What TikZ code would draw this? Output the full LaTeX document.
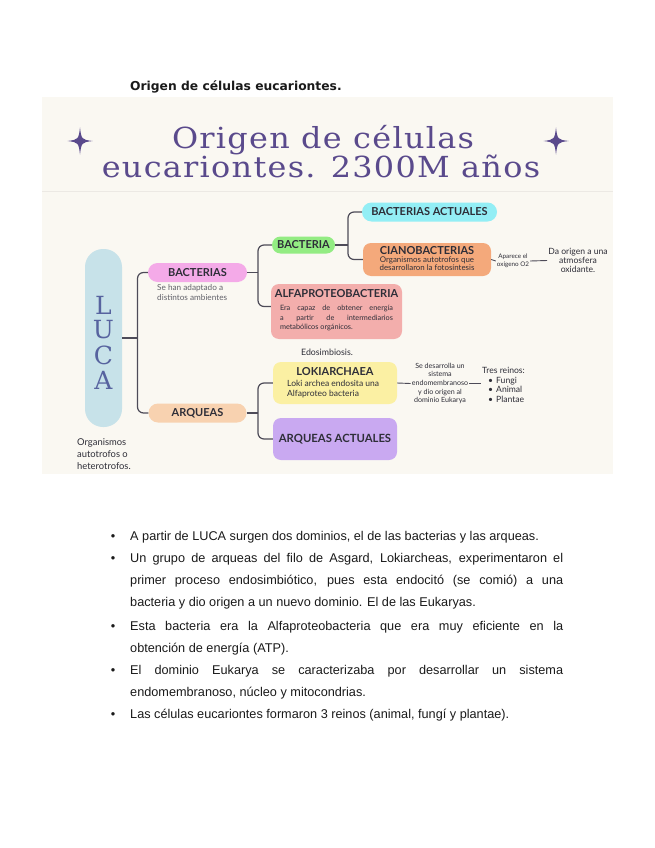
\documentclass[tikz,border=0pt]{standalone}
\usepackage{fontspec}
\setmainfont{Liberation Sans}
\newfontfamily\lato{Lato}
\newfontfamily\headfont{DejaVu Sans}
\newfontfamily\titleserif[LetterSpace=4]{DejaVu Serif}
\newfontfamily\serifplain{DejaVu Serif}
\usetikzlibrary{positioning}
\hyphenpenalty=10000
\exhyphenpenalty=10000

\definecolor{ink}{HTML}{2E2E38}
\definecolor{linec}{HTML}{4D4B58}
\definecolor{titlec}{HTML}{5A4A8C}
\definecolor{lucab}{HTML}{C7E2E9}
\definecolor{lucat}{HTML}{57639F}
\definecolor{pinkb}{HTML}{F4AAE8}
\definecolor{peachb}{HTML}{F8D2B0}
\definecolor{greenb}{HTML}{93EC83}
\definecolor{cyanb}{HTML}{93EEF5}
\definecolor{orangeb}{HTML}{F4A97B}
\definecolor{roseb}{HTML}{F3AEAC}
\definecolor{yellowb}{HTML}{FBF0A3}
\definecolor{lilacb}{HTML}{C9A9F1}
\definecolor{cream}{HTML}{FAF8F2}
\definecolor{sepc}{HTML}{ECE9E4}
\definecolor{bodyc}{HTML}{1A1A1A}

\begin{document}
\begin{tikzpicture}[x=1pt, y=-1pt, pill/.style={rounded corners=9.5pt, inner sep=0pt, font=\lato\bfseries\fontsize{11}{12}\selectfont, text=ink}, card/.style={rounded corners=8pt, inner sep=0pt}, cardhead/.style={inner sep=0pt, font=\lato\bfseries\fontsize{11}{12}\selectfont, text=ink}, link/.style={draw=linec, line width=1.2pt, rounded corners=6pt}, note/.style={font=\lato\fontsize{7.4}{8.6}\selectfont, text=ink, align=center, inner sep=1pt}, lucaletter/.style={font=\serifplain\fontsize{25}{25}\selectfont, text=lucat, inner sep=0pt}, bigtitle/.style={anchor=base, inner sep=0pt, font=\titleserif\fontsize{29}{32}\selectfont, text=titlec}, dochead/.style={anchor=base west, inner sep=0pt, font=\headfont\bfseries\fontsize{12.3}{14}\selectfont, text=bodyc}, item/.style={anchor=base west, text width=433pt, align=justify, inner sep=0pt, text=bodyc, font=\fontsize{12.7}{22.3}\selectfont}, dot/.style={anchor=base, inner sep=0pt, text=bodyc, font=\fontsize{12.7}{22.3}\selectfont}]
\useasboundingbox (0,0) rectangle (655,848);

% page heading
\node[dochead] (head) at (130,91) {Origen de células eucariontes.};

% poster background and title
\fill[cream] (42,97) rectangle (613,474);
\draw[sepc, line width=1pt] (42,191) -- (613,191);
\node[bigtitle] (title1) at (323,148) {\scalebox{1.1}[1]{Origen de células}};
\node[bigtitle] (title2) at (321,177) {\scalebox{1.1}[1]{eucariontes. 2300M años}};
\foreach \sx in {80,556}
  \fill[titlec] (\sx,127.5) .. controls (\sx+1.5,139.5) .. (\sx+12.5,141) .. controls (\sx+1.5,142.5) .. (\sx,154.5) .. controls (\sx-1.5,142.5) .. (\sx-12.5,141) .. controls (\sx-1.5,139.5) .. (\sx,127.5) -- cycle;

% LUCA
\node[pill, fill=lucab, minimum width=37pt, minimum height=178pt, rounded corners=18pt] (luca) at (103.5,338) {};
\foreach \ch [count=\k] in {L,U,C,A}
  \node[lucaletter] (luca\k) at (103.5,280+25*\k) {\ch};
\node[note, anchor=base west, align=left, font=\lato\fontsize{9.4}{11.6}\selectfont] (organismos) at (76,469) {Organismos\\autotrofos o\\heterotrofos.};

% first level
\node[pill, fill=pinkb, minimum width=99pt, minimum height=19pt] (bacterias) at (197.5,272.5) {BACTERIAS};
\node[note, anchor=base west, align=left, text=ink!75, font=\lato\fontsize{8.2}{9.4}\selectfont] (adaptado) at (156,300) {Se han adaptado a\\distintos ambientes};
\node[pill, fill=peachb, minimum width=98pt, minimum height=19pt] (arqueas) at (197.5,413) {ARQUEAS};

% bacterias branch
\node[pill, fill=greenb, minimum width=63pt, minimum height=17pt, rounded corners=8.5pt] (bacteria) at (303.5,245) {BACTERIA};
\node[card, fill=roseb, minimum width=131pt, minimum height=55pt] (alfa) at (336.5,311.5) {};
\node[cardhead] (alfatitle) at (336.5,294) {ALFAPROTEOBACTERIA};
\node[note, anchor=base, text width=113pt, align=justify, font=\lato\fontsize{7.3}{9.5}\selectfont] (alfatext) at (336.5,310.5) {Era capaz de obtener energía\linebreak a partir de intermediarios\linebreak metabólicos orgánicos.};

\node[pill, fill=cyanb, minimum width=135pt, minimum height=19pt] (bactact) at (429.5,212) {BACTERIAS ACTUALES};
\node[card, fill=orangeb, minimum width=128pt, minimum height=33pt] (ciano) at (427,259.5) {};
\node[cardhead] (cianotitle) at (427,251) {CIANOBACTERIAS};
\node[note, anchor=base, font=\lato\fontsize{7.9}{8.5}\selectfont] (cianotext) at (427,270.5) {Organismos autotrofos que\\desarrollaron la fotosíntesis};
\node[note, font=\lato\fontsize{6.3}{8}\selectfont] (aparece) at (513,261) {Aparece el\\oxígeno O2};
\node[note, font=\lato\fontsize{8.6}{9}\selectfont] (origen) at (578,260.5) {Da origen a una\\atmosfera\\oxidante.};

% arqueas branch
\node[note, font=\lato\fontsize{8.8}{10}\selectfont] (edosim) at (327,352) {Edosimbiosis.};
\node[card, fill=yellowb, minimum width=124pt, minimum height=42pt] (loki) at (335,383) {};
\node[cardhead] (lokititle) at (335,372) {LOKIARCHAEA};
\node[note, anchor=base west, align=left, font=\lato\fontsize{8.5}{10}\selectfont] (lokitext) at (286,396) {Loki archea endosita una\\Alfaproteo bacteria};
\node[card, fill=lilacb, minimum width=124pt, minimum height=42pt, font=\lato\bfseries\fontsize{11.3}{12}\selectfont, text=ink] (arqact) at (335,439) {ARQUEAS ACTUALES};
\node[note, font=\lato\fontsize{7.1}{8.7}\selectfont] (sedes) at (440,383.5) {Se desarrolla un\\sistema\\endomembranoso\\y dio origen al\\dominio Eukarya};
\node[note, anchor=west, align=left, font=\lato\fontsize{8.6}{9.6}\selectfont] (reinos) at (481,385) {Tres reinos:\\\hspace*{6pt}\textbullet\hspace{3pt}Fungi\\\hspace*{6pt}\textbullet\hspace{3pt}Animal\\\hspace*{6pt}\textbullet\hspace{3pt}Plantae};

% connectors
\coordinate (j0) at (137.5,338);
\draw[link] (luca.east) -- (j0);
\draw[link] (bacterias.west) -| (j0) |- (arqueas.west);
\coordinate (j1) at (258,272.5);
\draw[link] (bacterias.east) -- (j1);
\draw[link] (bacteria.west) -| (j1) |- ([yshift=5pt]alfa.west);
\coordinate (j2) at (348,245);
\draw[link] (bacteria.east) -- (j2);
\draw[link] (bactact.west) -| (j2) |- (ciano.west);
\coordinate (j3) at (258,413);
\draw[link] (arqueas.east) -- (j3);
\draw[link] (loki.west) -| (j3) |- (arqact.west);
\draw[link, line width=0.9pt] (ciano.east) -- (aparece.west);
\draw[link, line width=0.9pt] (aparece.east) -- (origen.west);
\draw[link, line width=0.9pt] (loki.east) -- (sedes.west);
\draw[link, line width=0.9pt] (sedes.east) -- (sedes.east -| reinos.west);

% bullet list
\foreach \by in {540,562,630,674,718}
  \node[dot] at (113,\by) {\textbullet};
\node[item] (item1) at (130,540) {A partir de LUCA surgen dos dominios, el de las bacterias y las arqueas.};
\node[item] (item2) at (130,562) {Un grupo de arqueas del filo de Asgard, Lokiarcheas, experimentaron el\linebreak primer proceso endosimbiótico, pues esta endocitó (se comió) a una\linebreak bacteria y dio origen a un nuevo dominio. El de las Eukaryas.};
\node[item] (item3) at (130,630) {Esta bacteria era la Alfaproteobacteria que era muy eficiente en la\linebreak obtención de energía (ATP).};
\node[item] (item4) at (130,674) {El dominio Eukarya se caracterizaba por desarrollar un sistema\linebreak endomembranoso, núcleo y mitocondrias.};
\node[item] (item5) at (130,718) {Las células eucariontes formaron 3 reinos (animal, fungí y plantae).};
\end{tikzpicture}
\end{document}
